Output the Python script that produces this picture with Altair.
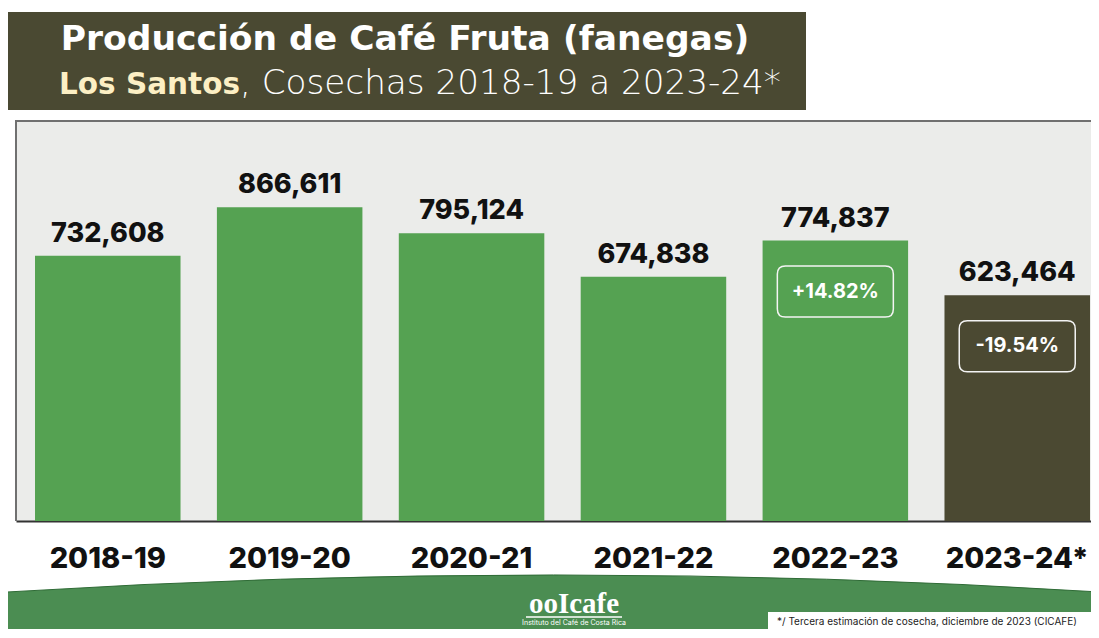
import altair as alt
import pandas as pd

cosechas = ["2018-19", "2019-20", "2020-21", "2021-22", "2022-23", "2023-24*"]
valores = [732608, 866611, 795124, 674838, 774837, 623464]
variacion = ["", "", "", "", "+14.82%", "-19.54%"]
tipo = ["Real", "Real", "Real", "Real", "Real", "Estimación"]

df = pd.DataFrame({"cosecha": cosechas, "valor": valores,
                   "variacion": variacion, "tipo": tipo})

GREEN = "#55a252"
OLIVE = "#4b4932"
FONT = "Inter"
TFONT = "DejaVu Sans"
W = 1075

x_enc = alt.X("cosecha:N", sort=cosechas,
              scale=alt.Scale(paddingInner=0.2, paddingOuter=0.055, align=0.95),
              axis=alt.Axis(title=None, labelAngle=0, labelFontSize=29,
                            labelFont=FONT, labelFontWeight=800, labelColor="#111",
                            labelPadding=23, ticks=False, domainColor="#333",
                            domainWidth=2))
y_enc = alt.Y("valor:Q", scale=alt.Scale(domain=[0, 1105000], nice=False),
              axis=None)

base = alt.Chart(df)

bars = base.mark_bar().encode(
    x=x_enc, y=y_enc,
    color=alt.Color("tipo:N", scale=alt.Scale(domain=["Real", "Estimación"],
                                              range=[GREEN, OLIVE]), legend=None))

labels = base.mark_text(baseline="bottom", dy=-8, fontSize=27, font=FONT,
                        fontWeight=800, color="#111").encode(
    x=alt.X("cosecha:N", sort=cosechas), y="valor:Q",
    text=alt.Text("valor:Q", format=",d"))

badge_path = ("M -0.86,-0.44 L 0.86,-0.44 Q 1,-0.44 1,-0.30 L 1,0.30 "
              "Q 1,0.44 0.86,0.44 L -0.86,0.44 Q -1,0.44 -1,0.30 "
              "L -1,-0.30 Q -1,-0.44 -0.86,-0.44 Z")
badge_df = base.transform_filter(alt.datum.variacion != "")
badges = badge_df.mark_point(shape=badge_path, size=116 * 116, filled=False,
                             stroke="#f4f4f4", strokeWidth=1.5, opacity=1,
                             yOffset=51).encode(
    x=alt.X("cosecha:N", sort=cosechas), y="valor:Q")
badge_text = badge_df.mark_text(fontSize=20, font=FONT, fontWeight="bold",
                                color="white", yOffset=51, baseline="middle").encode(
    x=alt.X("cosecha:N", sort=cosechas), y="valor:Q", text="variacion:N")

one = pd.DataFrame({"a": [0]})

# plot box border (left and top only; the right side runs off the page)
border_left = alt.Chart(one).mark_rule(color="#707070", strokeWidth=2).encode(
    x=alt.value(0), y=alt.value(0), y2=alt.value(400))
border_top = alt.Chart(one).mark_rule(color="#707070", strokeWidth=2).encode(
    x=alt.value(-1), x2=alt.value(W), y=alt.value(0))

# title box
title_box = alt.Chart(one).mark_rect(color="#4a4932").encode(
    x=alt.value(-8), x2=alt.value(790), y=alt.value(-109), y2=alt.value(-11))
t1 = alt.Chart(pd.DataFrame({"t": ["Producción de Café Fruta (fanegas)"]})).mark_text(
    fontSize=34.5, font=TFONT, fontWeight="bold", color="white", align="center",
    baseline="alphabetic").encode(x=alt.value(389), y=alt.value(-71), text="t:N")
t2a = alt.Chart(pd.DataFrame({"t": ["Los Santos"]})).mark_text(
    fontSize=29.5, font=TFONT, fontWeight="bold", color="#fcefc4", align="right",
    baseline="alphabetic").encode(x=alt.value(224), y=alt.value(-27), text="t:N")
t2b = alt.Chart(pd.DataFrame({"t": [", Cosechas 2018-19 a 2023-24*"]})).mark_text(
    fontSize=34.2, font=TFONT, fontWeight=200, color="white", align="left",
    baseline="alphabetic").encode(x=alt.value(224), y=alt.value(-27), text="t:N")

# footer band
band_path = "M -1,-0.0147 Q 0,-0.077 1,-0.0147 L 1,0.0826 L -1,0.0826 Z"
footer = alt.Chart(one).mark_point(
    shape=band_path, size=1092 * 1092, filled=True, fill="#4b8d52",
    stroke="#2f6b36", strokeWidth=1, opacity=1).encode(
    x=alt.value(537.5), y=alt.value(479))
logo = alt.Chart(pd.DataFrame({"t": ["ooIcafe"]})).mark_text(
    fontSize=29, font="Liberation Serif", fontWeight="bold", color="white",
    align="center", baseline="alphabetic").encode(
    x=alt.value(558), y=alt.value(492), text="t:N")
logo_line = alt.Chart(one).mark_rule(
    color="white", strokeWidth=1.5).encode(
    x=alt.value(510), x2=alt.value(606), y=alt.value(496))
logo_sub = alt.Chart(pd.DataFrame({"t": ["Instituto del Café de Costa Rica"]})).mark_text(
    fontSize=7, font=FONT, color="white", align="center", baseline="middle").encode(
    x=alt.value(558), y=alt.value(502), text="t:N")
note_box = alt.Chart(one).mark_rect(color="white").encode(
    x=alt.value(752), x2=alt.value(1090), y=alt.value(491), y2=alt.value(520))
note = alt.Chart(pd.DataFrame({"t": ["*/ Tercera estimación de cosecha, diciembre de 2023 (CICAFE)"]})).mark_text(
    fontSize=10, font=FONT, color="#222", align="left", baseline="middle").encode(
    x=alt.value(761), y=alt.value(501), text="t:N")

chart = alt.layer(bars, labels, badges, badge_text, border_left, border_top,
                  title_box, t1, t2a, t2b,
                  footer, logo, logo_line, logo_sub, note_box, note).properties(
    width=W, height=400,
    padding={"left": 8, "top": 113, "right": 0, "bottom": 108},
    autosize=alt.AutoSizeParams(type="none"),
    background="white",
).configure_view(fill="#ebecea", stroke=None)

chart.save("out.html", embed_options={"renderer": "svg", "actions": False})
